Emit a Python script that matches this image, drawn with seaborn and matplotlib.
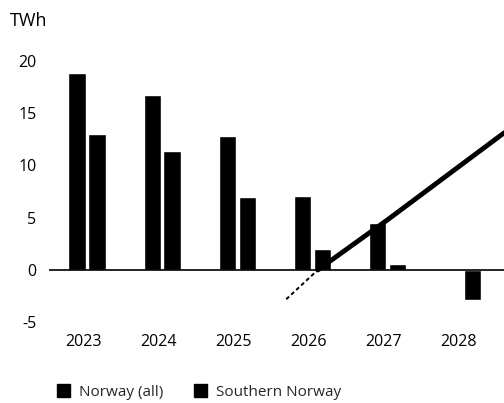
import matplotlib
matplotlib.use("Agg")
import matplotlib.pyplot as plt
import matplotlib.transforms as mtransforms
import seaborn as sns
import pandas as pd
from matplotlib.patches import Patch

years = ["2023", "2024", "2025", "2026", "2027", "2028"]
norway_all = [18.8, 16.7, 12.8, 7.1, 4.5, 0.0]
southern_norway = [13.0, 11.4, 7.0, 2.0, 0.6, -2.9]
series_names = ["Norway (all)", "Southern Norway"]
y_ticks = [-5, 0, 5, 10, 15, 20]

# diagonal stroke visible across the chart
stroke_x_low = [2.65, 3.07]
stroke_y_low = [-2.8, 0.0]
stroke_x_high = [3.07, 4.0, 5.55]
stroke_y_high = [0.0, 4.8, 13.1]

df = pd.DataFrame({
    "year": years * 2,
    "value": norway_all + southern_norway,
    "series": [series_names[0]] * len(years) + [series_names[1]] * len(years),
})

sns.set_theme(style="white")
plt.rcParams["font.family"] = ["Open Sans", "DejaVu Sans"]

fig = plt.figure(figsize=(5.04, 4.03), dpi=100)
ax = fig.add_axes([0.097, 0.1873, 0.903, 0.675])

sns.barplot(data=df, x="year", y="value", hue="series", order=years,
            hue_order=series_names, palette=["#000000", "#000000"],
            width=0.53, gap=0.12, ax=ax, legend=False, saturation=1)

ax.plot(stroke_x_low, stroke_y_low, color="black", lw=1.4, ls=(0, (2, 1.5)))
ax.plot(stroke_x_high, stroke_y_high, color="black", lw=3.5, solid_capstyle="round")

ax.axhline(0, color="black", lw=1.2, zorder=3)
ax.set_xlim(-0.51, 5.55)
ax.set_ylim(-5.5, 20.5)
ax.set_yticks(y_ticks)
ax.set_yticklabels([str(t) for t in y_ticks])
ax.set_xlabel("")
ax.set_ylabel("")
ax.tick_params(axis="both", length=0, labelsize=11.5, colors="black")
ax.tick_params(axis="y", pad=9)
ax.tick_params(axis="x", pad=5)
shift = mtransforms.ScaledTranslation(-4 / 100, 0, fig.dpi_scale_trans)
for lbl in ax.get_xticklabels():
    lbl.set_transform(lbl.get_transform() + shift)
sns.despine(ax=ax, left=True, bottom=True)

fig.text(10 / 504, 1 - 21 / 403, "TWh", ha="left", va="center",
         fontsize=13, color="black")

handles = [Patch(facecolor="black", edgecolor="black", label=n) for n in series_names]
fig.legend(handles=handles, loc="center left", bbox_to_anchor=(0.113, 0.027),
           ncol=2, frameon=False, fontsize=11, handlelength=0.85,
           handleheight=0.85, handletextpad=0.6, columnspacing=2.0,
           borderaxespad=0, borderpad=0)

fig.savefig("out.png", dpi=100)
